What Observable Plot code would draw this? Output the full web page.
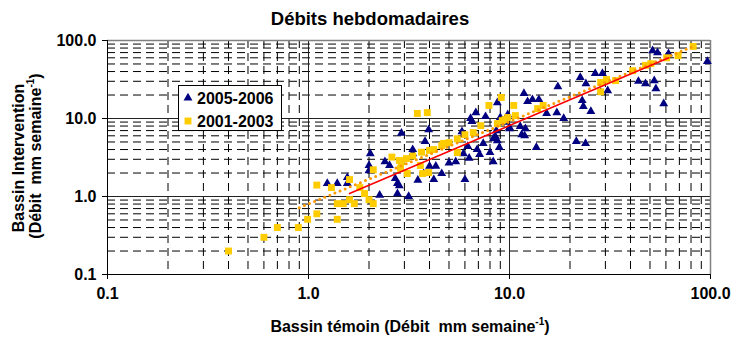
<!DOCTYPE html>
<html><head><meta charset="utf-8">
<script src="https://cdn.jsdelivr.net/npm/d3@7"></script>
<script src="https://cdn.jsdelivr.net/npm/@observablehq/plot@0.6"></script>
<style>html,body{margin:0;padding:0;background:#fff;} #chart{width:734px;height:338px;}</style>
</head><body><div id="chart"></div>
<script>
const seriesNames = ["2005-2006", "2001-2003"];
// 2005-2006 (triangles)
const triX = [1.24,1.39,1.56,1.56,2.0,2.0,2.03,2.26,2.4,2.53,2.7,2.77,2.83,2.77,3.15,2.9,3.3,3.3,3.5,3.74,3.8,3.96,4.0,4.3,4.2,4.6,5.0,5.4,5.9,6.3,6.0,6.2,6.9,7.1,7.4,8.0,8.3,8.9,8.3,8.5,8.7,8.6,9.0,10.0,8.7,6.8,7.6,6.4,6.5,5.8,5.9,10.0,11.8,13.0,12.3,14.0,15.3,17.2,17.4,18.6,21.5,23.9,13.6,11.5,11.9,11.3,12.0,22.5,24,23,23.3,25.4,26.7,29,28.4,30.8,51.5,54.5,61.8,43.8,47.5,52.5,53.5,58.5,96.5,9.5,9.8];
const triY = [1.47,1.47,1.47,1.75,2.15,2.5,3.55,1.04,2.8,2.5,1.7,1.47,1.38,1.09,1.0,6.5,3.55,4.0,1.62,1.97,5.1,7.2,2.45,2.45,1.65,1.97,2.7,2.8,3.55,3.1,1.65,4.4,4.0,3.45,4.8,3.66,2.8,4.25,5.5,5.9,5.2,7.0,10.3,7.7,16,11.9,10.6,10,9.2,6.8,6.2,7.4,21,17.5,16.5,17.5,11.6,11.9,25.6,10,5.1,4.8,4.25,6.2,6.0,7.9,7.4,33.6,28,17,14.3,12.3,37.8,37.8,21.6,22.8,74,70,68,30,28,30.6,24.2,15.5,54,9.0,11.2];
// 2001-2003 (squares)
const sqX = [0.4,0.6,0.7,0.89,0.99,1.1,1.1,1.3,1.39,1.39,1.49,1.6,1.69,1.6,1.8,1.9,2.0,2.1,2.1,2.6,2.83,2.87,2.9,3.07,3.1,3.3,3.6,3.65,3.7,3.96,4.0,4.2,4.6,4.7,5.0,5.5,5.5,6.0,6.6,7.2,8.7,9.2,9.5,9.8,10.7,3.48,3.9,7.9,9.1,10.5,13.8,14.7,28.4,28.4,30.4,33.7,41,47.5,50.5,60.5,69,82];
const sqY = [0.2,0.3,0.4,0.4,0.51,0.6,1.4,1.3,0.51,0.81,0.81,0.91,0.81,1.65,1.3,1.09,0.91,0.81,2.2,3.2,2.9,2.3,2.8,3.06,1.97,3.3,2.5,3.7,1.97,2.03,3.9,4.0,4.5,4.8,4.9,5.5,3.66,6.2,6.6,8.1,8.6,9.4,9.7,10.3,10.9,11.6,11.9,14.7,18.6,14.7,13.4,14.7,29,22,31.6,30.6,41,48,50.5,60,64,84];
// trend lines (read end points)
const redX = [1.6, 62], redY = [1.09, 60];
const orangeX = [0.9, 82], orangeY = [0.72, 84];
// ticks
const majorTicks = [0.1, 1, 10, 100];
const tickLabels = ["0.1", "1.0", "10.0", "100.0"];
const minorTicks = [0.2,0.3,0.4,0.5,0.6,0.7,0.8,0.9,2,3,4,5,6,7,8,9,20,30,40,50,60,70,80,90];

const tri = triX.map((x, i) => ({x, y: triY[i]}));
const sq = sqX.map((x, i) => ({x, y: sqY[i]}));
const red = redX.map((x, i) => ({x, y: redY[i]}));
const orange = orangeX.map((x, i) => ({x, y: orangeY[i]}));
const fmt = d => tickLabels[majorTicks.indexOf(d)];

const chart = Plot.plot({
  width: 734, height: 338,
  marginLeft: 107, marginRight: 24, marginTop: 40, marginBottom: 64,
  style: {fontFamily: '"Liberation Sans", Arial, sans-serif', fontSize: "16px", fontWeight: "bold", color: "#000", background: "#fff", overflow: "visible"},
  x: {type: "log", domain: [0.1, 100], ticks: majorTicks, tickFormat: fmt, tickSize: 5, tickPadding: 8, label: null},
  y: {type: "log", domain: [0.1, 100], ticks: majorTicks, tickFormat: fmt, tickSize: 5, tickPadding: 6, label: null},
  marks: [
    Plot.ruleX(minorTicks, {stroke: "#000", strokeWidth: 1, strokeDasharray: "8,5"}),
    Plot.ruleY(minorTicks, {stroke: "#000", strokeWidth: 1, strokeDasharray: "8,5"}),
    Plot.ruleX([1, 10], {stroke: "#222", strokeWidth: 1}),
    Plot.ruleY([1, 10], {stroke: "#222", strokeWidth: 1}),
    Plot.ruleX([100], {stroke: "#808080", strokeWidth: 1.5}),
    Plot.ruleY([100], {stroke: "#808080", strokeWidth: 1.5}),
    Plot.ruleX([0.1], {stroke: "#000", strokeWidth: 1}),
    Plot.ruleY([0.1], {stroke: "#000", strokeWidth: 1}),
    Plot.dot(tri, {x: "x", y: "y", symbol: "triangle", r: 3.3, fill: "#000080", stroke: "none"}),
    Plot.dot(sq, {x: "x", y: "y", symbol: "square", r: 3.9, fill: "#FFCC00", stroke: "none"}),
    Plot.line(orange, {x: "x", y: "y", stroke: "#FF9900", strokeWidth: 3, strokeDasharray: "0,5.5", strokeLinecap: "round"}),
    Plot.line(red, {x: "x", y: "y", stroke: "#FF0000", strokeWidth: 1.6})
  ]
});
document.getElementById("chart").appendChild(chart);

const svg = d3.select(chart);
const font = '"Liberation Sans", Arial, sans-serif';
const txt = svg.append("g").attr("font-family", font).attr("font-weight", "bold").attr("fill", "#000");
txt.append("text").attr("x", 370).attr("y", 25).attr("text-anchor", "middle").attr("font-size", 18.5).text("Débits hebdomadaires");

function unitLabel(sel) {
  sel.append("tspan").text("(Débit  mm semaine");
  sel.append("tspan").attr("font-size", 10).attr("dy", -7).text("-1");
  sel.append("tspan").attr("dy", 7).text(")");
}
const xl = txt.append("text").attr("x", 410).attr("y", 332).attr("text-anchor", "middle").attr("font-size", 16).attr("xml:space", "preserve");
xl.append("tspan").text("Bassin témoin ");
unitLabel(xl);

txt.append("text").attr("transform", "translate(24,158) rotate(-90)").attr("text-anchor", "middle").attr("font-size", 16).text("Bassin Intervention");
const yl2 = txt.append("text").attr("transform", "translate(41,156) rotate(-90)").attr("text-anchor", "middle").attr("font-size", 16).attr("xml:space", "preserve");
unitLabel(yl2);

// legend
const lg = svg.append("g");
lg.append("rect").attr("x", 178.5).attr("y", 85.5).attr("width", 103).attr("height", 45).attr("fill", "#fff").attr("stroke", "#000").attr("stroke-width", 1);
lg.append("path").attr("transform", "translate(188,98)").attr("d", d3.symbol(d3.symbolTriangle, 3.3 * 3.3 * Math.PI)()).attr("fill", "#000080");
lg.append("path").attr("transform", "translate(188,121)").attr("d", d3.symbol(d3.symbolSquare, 3.9 * 3.9 * Math.PI)()).attr("fill", "#FFCC00");
lg.append("text").attr("x", 197).attr("y", 104).attr("text-anchor", "start").attr("font-family", font).attr("font-weight", "bold").attr("font-size", 16).text(seriesNames[0]);
lg.append("text").attr("x", 197).attr("y", 127).attr("text-anchor", "start").attr("font-family", font).attr("font-weight", "bold").attr("font-size", 16).text(seriesNames[1]);
</script>
</body></html>
